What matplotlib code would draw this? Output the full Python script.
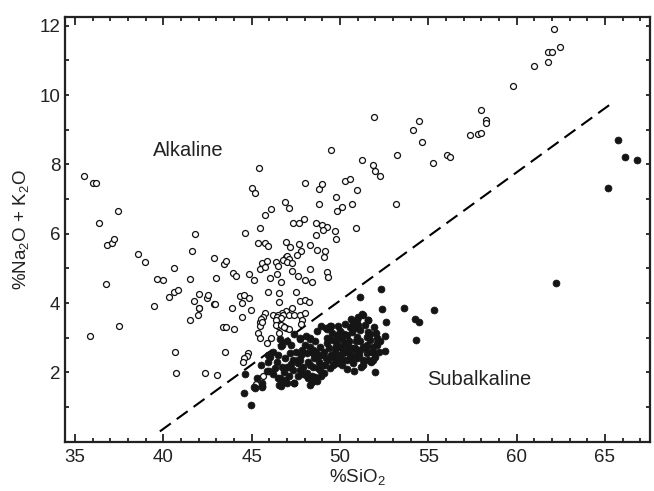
import matplotlib
matplotlib.use("Agg")
import matplotlib.pyplot as plt
from matplotlib.ticker import MultipleLocator
import numpy as np

plt.rcParams['font.family'] = ['Liberation Sans', 'DejaVu Sans']
plt.rcParams['mathtext.default'] = 'regular'

# alkaline samples (open circles): SiO2, Na2O+K2O
alk_sio2 = [35.5, 36.04, 36.19, 45.0, 45.2, 45.43, 48.03, 48.8, 49.0, 49.49, 49.8, 50.26, 50.56,
            50.96, 51.22, 51.94, 51.86, 51.98, 52.26, 53.24, 54.13, 54.47, 54.62, 55.28, 56.07,
            56.22, 57.34, 57.82, 58.0, 57.96, 58.26, 58.26, 59.8, 60.98, 61.75, 61.77, 62.0,
            62.43, 62.12, 37.43, 36.34, 36.79, 37.08, 37.23, 36.73, 37.5, 35.85, 38.57, 38.96,
            39.62, 40.0, 40.62, 40.3, 40.62, 40.83, 39.47, 41.53, 41.79, 41.62, 41.53, 41.75,
            41.96, 42.0, 42.02, 42.0, 42.47, 42.54, 42.87, 43.0, 43.43, 43.53, 42.87, 42.9,
            43.94, 44.11, 43.87, 43.38, 43.56, 43.98, 44.36, 44.58, 44.83, 44.47, 44.45, 44.94,
            44.62, 44.85, 45.15, 45.36, 45.45, 45.47, 45.47, 45.47, 46.88, 47.09, 46.08, 45.75,
            48.79, 49.83, 50.09, 50.68, 53.17, 47.32, 47.66, 47.98, 48.62, 48.96, 49.26, 49.02,
            49.73, 49.75, 50.88, 48.64, 45.75, 45.92, 46.94, 47.19, 47.69, 47.79, 48.3, 48.68,
            49.17, 49.09, 47.54, 46.92, 47.01, 47.13, 46.79, 46.98, 47.28, 45.57, 45.85, 45.75,
            46.38, 46.49, 47.3, 48.32, 49.26, 49.3, 46.41, 46.02, 46.67, 47.64, 48.0, 48.43,
            45.92, 46.55, 47.49, 46.55, 47.73, 48.0, 48.22, 47.3, 46.94, 46.71, 45.74, 46.19,
            46.49, 46.79, 47.09, 47.41, 47.73, 48.02, 45.62, 46.41, 46.64, 46.41, 46.51, 46.79,
            47.83, 47.77, 46.94, 47.13, 45.54, 45.58, 45.34, 45.49, 45.85, 46.07, 46.38, 46.38,
            46.67, 46.85, 46.56, 43.49, 44.77, 44.72, 44.58, 44.53, 42.34, 43.02, 45.66, 45.24,
            40.66, 40.7]
alk_total = [7.65, 7.45, 7.45, 7.33, 7.17, 7.9, 7.47, 7.3, 7.43, 8.42, 7.05, 7.52, 7.59,
             7.25, 8.13, 9.36, 7.99, 7.8, 7.66, 8.28, 8.98, 9.26, 8.65, 8.03, 8.28,
             8.2, 8.86, 8.88, 8.9, 9.57, 9.28, 9.2, 10.26, 10.85, 10.96, 11.25, 11.23,
             11.39, 11.91, 6.65, 6.31, 5.68, 5.73, 5.85, 4.55, 3.34, 3.05, 5.42, 5.19,
             4.69, 4.67, 5.01, 4.17, 4.31, 4.38, 3.9, 4.69, 5.99, 5.49, 3.52, 4.07,
             3.64, 3.85, 3.87, 4.26, 4.15, 4.23, 5.3, 4.73, 5.12, 5.22, 3.97, 3.98,
             4.88, 4.78, 3.87, 3.32, 3.32, 3.26, 4.21, 4.23, 4.15, 4.01, 3.6, 3.79,
             6.02, 4.83, 4.67, 5.73, 6.17, 4.97, 3.44, 3.34, 6.9, 6.73, 6.71, 6.54,
             6.85, 6.66, 6.76, 6.87, 6.86, 6.32, 6.32, 6.42, 6.3, 6.24, 6.19, 6.11,
             6.08, 5.84, 6.16, 5.96, 5.72, 5.64, 5.77, 5.63, 5.7, 5.51, 5.66, 5.54,
             5.49, 5.34, 5.39, 5.32, 5.36, 5.28, 5.24, 5.19, 5.15, 5.15, 5.21, 5.03,
             5.19, 5.07, 4.93, 4.97, 4.9, 4.76, 4.83, 4.71, 4.62, 4.79, 4.67, 4.61,
             4.33, 4.3, 4.31, 4.02, 4.07, 4.09, 4.03, 3.86, 3.78, 3.72, 3.7, 3.66,
             3.66, 3.66, 3.66, 3.64, 3.65, 3.7, 3.59, 3.61, 3.56, 3.46, 3.35, 3.35,
             3.51, 3.39, 3.29, 3.24, 3.55, 3.44, 3.13, 2.98, 2.84, 2.98, 3.51, 3.37,
             3.37, 3.3, 3.13, 2.6, 2.56, 2.48, 2.41, 2.29, 1.97, 1.92, 1.9, 1.67,
             2.58, 1.97]

# subalkaline samples (filled circles)
sub_sio2 = [65.71, 66.16, 66.84, 65.18, 62.22, 52.32, 51.13, 52.37, 53.64, 55.3, 54.24, 54.49,
            52.58, 52.53, 52.53, 54.28, 51.28, 51.03, 50.94, 51.56, 51.26, 51.58, 50.75, 50.56,
            49.24, 49.47, 47.73, 48.3, 46.64, 47.01, 46.04, 47.73, 47.17, 47.35, 47.09, 47.35,
            46.41, 46.32, 46.69, 45.85, 45.15, 45.57, 45.58, 44.58, 44.96, 44.62, 46.55, 46.69,
            46.6, 46.89, 47.01, 47.39, 48.3, 48.11, 48.39, 48.58, 48.87, 49.09, 48.9, 48.49,
            48.77, 48.3, 47.73, 47.92, 47.64, 48.11, 48.49, 48.3, 48.68, 48.87, 49.24, 49.62,
            49.81, 49.53, 49.24, 50.0, 50.38, 50.19, 50.56, 50.75, 50.94, 51.13, 51.32, 51.51,
            51.69, 51.88, 52.07, 52.26, 50.66, 50.38, 50.09, 49.81, 50.85, 51.03, 51.13, 51.51,
            51.79, 51.98, 50.38, 50.75, 50.94, 51.32, 49.62, 49.81, 49.34, 49.15, 51.75, 52.03,
            52.07, 51.88, 49.43, 48.3, 47.73, 47.64, 48.2, 48.39, 48.11, 48.96, 49.43, 49.71,
            50.19, 50.56, 50.94, 51.13, 51.41, 51.6, 45.2, 45.6, 46.64, 47.4, 48.4, 48.7,
            46.2, 46.5, 46.9, 47.2, 47.5, 47.8, 48.0, 48.6, 48.9, 49.1, 49.4, 49.7,
            49.9, 50.1, 50.3, 50.5, 50.7, 50.9, 51.1, 51.3, 51.5, 51.7, 51.9, 52.1,
            52.2, 50.2, 50.0, 49.8, 49.5, 49.2, 48.8, 48.5, 48.2, 47.9, 47.6, 47.1,
            46.8, 46.5, 46.2, 45.9, 45.5, 45.3, 46.0, 47.0, 49.0, 49.6, 50.4, 50.8,
            51.6, 52.0, 51.2, 49.9, 50.3, 50.6, 48.7, 48.9, 48.1, 47.4, 46.6, 46.73,
            49.43, 49.19, 50.45, 50.15, 49.95, 50.65, 51.45, 48.45, 47.85, 49.35, 50.85, 51.95,
            45.95, 47.25, 48.65, 49.75, 50.25]
sub_total = [8.7, 8.2, 8.12, 7.31, 4.57, 4.41, 4.18, 3.82, 3.86, 3.79, 3.53, 3.46,
             3.44, 3.05, 2.62, 2.93, 3.66, 3.59, 3.51, 3.51, 3.68, 3.51, 3.42, 3.32,
             3.24, 3.34, 2.95, 2.95, 2.76, 2.89, 2.43, 2.36, 2.55, 2.36, 2.16, 2.07,
             2.31, 2.12, 2.15, 2.03, 1.59, 1.59, 1.68, 1.4, 1.06, 1.95, 1.64, 1.68,
             1.83, 1.78, 1.68, 1.68, 1.64, 1.88, 1.83, 1.86, 2.07, 1.97, 1.88, 2.16,
             2.12, 2.21, 2.07, 2.16, 2.26, 2.55, 2.65, 2.74, 2.45, 2.74, 2.84, 2.93,
             3.08, 3.13, 2.98, 2.74, 2.84, 2.55, 2.6, 2.45, 3.03, 2.89, 2.74, 3.03,
             2.93, 2.74, 2.79, 2.89, 3.17, 3.08, 2.98, 2.89, 3.27, 3.37, 2.65, 2.55,
             2.6, 2.45, 2.36, 2.26, 2.41, 2.36, 2.45, 2.26, 2.36, 2.21, 2.29, 3.14,
             2.86, 2.36, 3.34, 2.98, 2.98, 2.36, 1.83, 1.88, 1.97, 1.97, 2.12, 2.26,
             2.36, 2.45, 2.55, 3.22, 3.37, 3.17, 1.56, 1.6, 1.6, 1.7, 1.72, 1.75,
             2.6, 2.5, 2.4, 2.8, 2.6, 2.5, 2.8, 2.9, 2.5, 2.6, 2.7, 2.6,
             2.4, 2.2, 2.6, 2.9, 2.7, 2.9, 2.5, 2.2, 2.8, 3.1, 3.3, 3.0,
             2.6, 3.1, 3.2, 2.7, 2.5, 2.4, 2.3, 2.4, 2.3, 1.95, 1.9, 1.9,
             2.0, 1.85, 1.95, 2.3, 2.2, 1.85, 2.05, 2.15, 2.2, 2.2, 2.1, 2.05,
             2.35, 2.0, 2.15, 3.35, 3.4, 3.55, 3.2, 3.35, 3.05, 3.1, 2.95, 2.79,
             3.32, 3.27, 2.75, 2.65, 2.5, 2.35, 2.7, 2.55, 2.65, 2.95, 2.7, 2.55,
             2.5, 2.25, 2.6, 2.75, 2.85]

# dividing line (MacDonald & Katsura): total alkali = 0.37 * (SiO2 - 39)
line_sio2 = np.array([39.8, 65.45])
line_total = 0.37 * (line_sio2 - 39.0)

fig = plt.figure(figsize=(6.54, 4.91), dpi=100)
ax = fig.add_axes([0.0994, 0.1005, 0.8945, 0.8655])

ax.plot(line_sio2, line_total, color='black', lw=1.5, dashes=(6.5, 3.5))
ax.plot(alk_sio2, alk_total, 'o', ms=4.3, mfc='white', mec='#111111', mew=0.9, ls='none')
ax.plot(sub_sio2, sub_total, 'o', ms=5.0, mfc='#151515', mec='#151515', mew=0.5, ls='none')

ax.text(39.4, 8.39, 'Alkaline', fontsize=14.5, va='center', ha='left', color='#222222')
ax.text(54.96, 1.78, 'Subalkaline', fontsize=14.5, va='center', ha='left', color='#222222')

ax.set_xlim(34.43, 67.55)
ax.set_ylim(0, 12.26)
ax.xaxis.set_major_locator(MultipleLocator(5))
ax.xaxis.set_minor_locator(MultipleLocator(1))
ax.yaxis.set_major_locator(MultipleLocator(2))
ax.yaxis.set_minor_locator(MultipleLocator(1))
ax.set_yticks([2, 4, 6, 8, 10, 12])

ax.tick_params(which='both', direction='in', top=True, right=True, width=1.3, labelsize=13.5,
               colors='#222222')
ax.tick_params(axis='x', which='major', length=5.5, pad=5)
ax.tick_params(axis='x', which='minor', length=2.8)
ax.tick_params(axis='y', which='both', length=3)
for s in ax.spines.values():
    s.set_linewidth(1.6)
    s.set_color('#222222')

ax.set_xlabel('%SiO$_2$', fontsize=13.5, labelpad=1, color='#222222')
ax.set_ylabel('%Na$_2$O + K$_2$O', fontsize=13.5, labelpad=6, color='#222222')

fig.savefig('out.png', dpi=100)
